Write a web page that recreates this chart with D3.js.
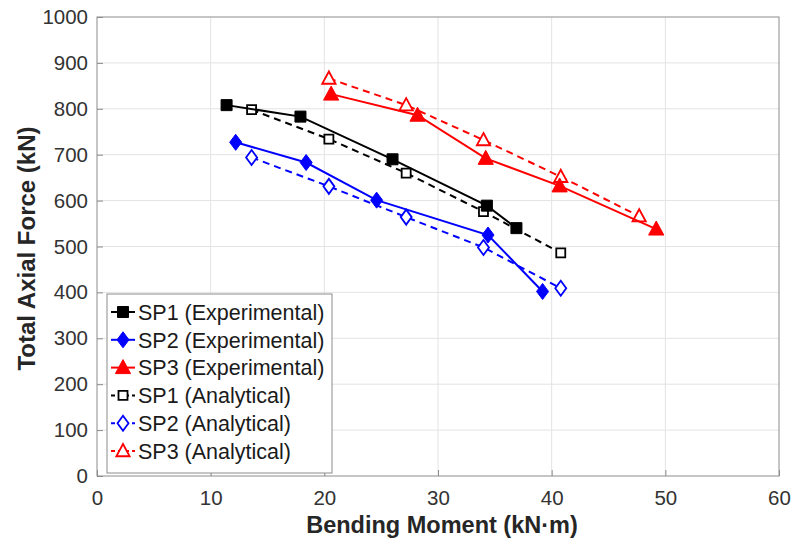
<!DOCTYPE html>
<head>
  <meta charset="utf-8">
  <script src="https://d3js.org/d3.v7.min.js"></script>
  <style type="text/css">
    body { margin:0; background:#fff; }
    text { font-family: "Liberation Sans", Arial, sans-serif; }
    .grid line { stroke: #e3e3e3; stroke-width: 1; }
    .tick-label { fill: #333333; font-size: 20.5px; }
    .axis-title { fill: #262626; font-size: 23.5px; font-weight: bold; }
    .legend-text { fill: #1a1a1a; font-size: 21.5px; }
  </style>
</head>
<body>
<script>
// ---- data ----
var xTicks = [0, 10, 20, 30, 40, 50, 60];
var yTicks = [0, 100, 200, 300, 400, 500, 600, 700, 800, 900, 1000];

var sp1ExpM = [11.4, 17.9, 26.0, 34.3, 36.9];
var sp1ExpN = [808, 783, 690, 589, 540];
var sp2ExpM = [12.2, 18.4, 24.6, 34.4, 39.2];
var sp2ExpN = [727, 683, 601, 525, 402];
var sp3ExpM = [20.6, 28.2, 34.2, 40.7, 49.2];
var sp3ExpN = [832, 786, 692, 632, 538];
var sp1AnaM = [13.6, 20.4, 27.2, 34.0, 40.8];
var sp1AnaN = [798, 734, 660, 576, 486];
var sp2AnaM = [13.6, 20.4, 27.2, 34.0, 40.8];
var sp2AnaN = [694, 631, 564, 498, 409];
var sp3AnaM = [20.4, 27.2, 34.0, 40.8, 47.7];
var sp3AnaN = [866, 808, 732, 652, 566];

var series = [
  {name: "SP1 (Experimental)", m: sp1ExpM, n: sp1ExpN, color: "#000000", shape: "square",  filled: true,  dashed: false},
  {name: "SP2 (Experimental)", m: sp2ExpM, n: sp2ExpN, color: "#0000ff", shape: "diamond", filled: true,  dashed: false},
  {name: "SP3 (Experimental)", m: sp3ExpM, n: sp3ExpN, color: "#ff0000", shape: "triangle", filled: true, dashed: false},
  {name: "SP1 (Analytical)",   m: sp1AnaM, n: sp1AnaN, color: "#000000", shape: "square",  filled: false, dashed: true},
  {name: "SP2 (Analytical)",   m: sp2AnaM, n: sp2AnaN, color: "#0000ff", shape: "diamond", filled: false, dashed: true},
  {name: "SP3 (Analytical)",   m: sp3AnaM, n: sp3AnaN, color: "#ff0000", shape: "triangle", filled: false, dashed: true}
];

var W = 794, H = 544;
var margin = {top: 17, left: 97};
var width = 779 - margin.left, height = 476 - margin.top;

var svg = d3.select("body").append("svg")
  .attr("width", W).attr("height", H);
var g = svg.append("g")
  .attr("transform", "translate(" + margin.left + "," + margin.top + ")");

var x = d3.scaleLinear().domain([0, 60]).range([0, width]);
var y = d3.scaleLinear().domain([0, 1000]).range([height, 0]);

// grid
var grid = g.append("g").attr("class", "grid");
grid.selectAll(".gx").data(xTicks.slice(1, -1)).enter().append("line")
  .attr("x1", d => x(d)).attr("x2", d => x(d)).attr("y1", 0).attr("y2", height);
grid.selectAll(".gy").data(yTicks.slice(1, -1)).enter().append("line")
  .attr("y1", d => y(d)).attr("y2", d => y(d)).attr("x1", 0).attr("x2", width);

// axes (matlab style: inward ticks, box)
var xAxis = g.append("g").attr("transform", "translate(0," + height + ")")
  .call(d3.axisBottom(x).tickValues(xTicks).tickFormat(d3.format("d"))
    .tickSizeInner(-6).tickSizeOuter(0).tickPadding(14));
var yAxis = g.append("g")
  .call(d3.axisLeft(y).tickValues(yTicks).tickFormat(d3.format("d"))
    .tickSizeInner(-6).tickSizeOuter(0).tickPadding(9));
[xAxis, yAxis].forEach(function(a) {
  a.select(".domain").remove();
  a.selectAll(".tick line").attr("stroke", "#8c8c8c");
  a.selectAll(".tick text").attr("class", "tick-label").attr("fill", null);
  a.attr("font-family", null).attr("font-size", null);
});

g.append("rect").attr("width", width).attr("height", height)
  .attr("fill", "none").attr("stroke", "#8c8c8c").attr("stroke-width", 1);

// axis titles
svg.append("text").attr("class", "axis-title")
  .attr("x", margin.left + width / 2 + 4).attr("y", 533)
  .attr("text-anchor", "middle").text("Bending Moment (kN·m)");
svg.append("text").attr("class", "axis-title")
  .attr("transform", "translate(35," + (margin.top + height / 2 + 2) + ") rotate(-90)")
  .style("font-size", "24px")
  .attr("text-anchor", "middle").text("Total Axial Force (kN)");

// marker drawing
function marker(sel, s) {
  var p;
  if (s.shape === "square") {
    var h = s.filled ? 5.5 : 4.5;
    p = "M" + (-h) + "," + (-h) + "H" + h + "V" + h + "H" + (-h) + "Z";
  } else if (s.shape === "diamond") {
    var a = s.filled ? 6 : 5.5, b = s.filled ? 8 : 7.5;
    p = "M0," + (-b) + "L" + a + ",0L0," + b + "L" + (-a) + ",0Z";
  } else {
    var t = s.filled ? 8 : 7;
    p = "M0," + (-t) + "L" + (t * 0.95) + "," + (t * 0.75) + "L" + (-t * 0.95) + "," + (t * 0.75) + "Z";
  }
  sel.attr("d", p)
    .attr("fill", s.filled ? s.color : "#fff")
    .attr("stroke", s.color)
    .attr("stroke-width", s.filled ? 1 : 1.8);
}

var line = d3.line().x(d => x(d[0])).y(d => y(d[1]));

// analytical drawn first, experimental on top
series.slice().reverse().forEach(function(s) {
  var pts = s.m.map((v, i) => [v, s.n[i]]);
  g.append("path").datum(pts)
    .attr("d", line)
    .attr("fill", "none")
    .attr("stroke", s.color)
    .attr("stroke-width", 2)
    .attr("stroke-dasharray", s.dashed ? "7,5" : null);
  g.selectAll(null).data(pts).enter().append("path")
    .attr("transform", d => "translate(" + x(d[0]) + "," + y(d[1]) + ")")
    .call(marker, s);
});

// legend
var lg = svg.append("g").attr("transform", "translate(107,294)");
lg.append("rect").attr("width", 225).attr("height", 179)
  .attr("fill", "#fff").attr("stroke", "#8c8c8c").attr("stroke-width", 1);
series.forEach(function(s, i) {
  var yy = 18 + i * 27.8;
  lg.append("line").attr("x1", 4).attr("x2", 28).attr("y1", yy).attr("y2", yy)
    .attr("stroke", s.color).attr("stroke-width", 2)
    .attr("stroke-dasharray", s.dashed ? "4,3" : null);
  lg.append("path").attr("transform", "translate(16," + yy + ")").call(marker, s);
  lg.append("text").attr("class", "legend-text")
    .attr("x", 31).attr("y", yy).attr("dy", "0.36em").text(s.name);
});
</script>
</body>
